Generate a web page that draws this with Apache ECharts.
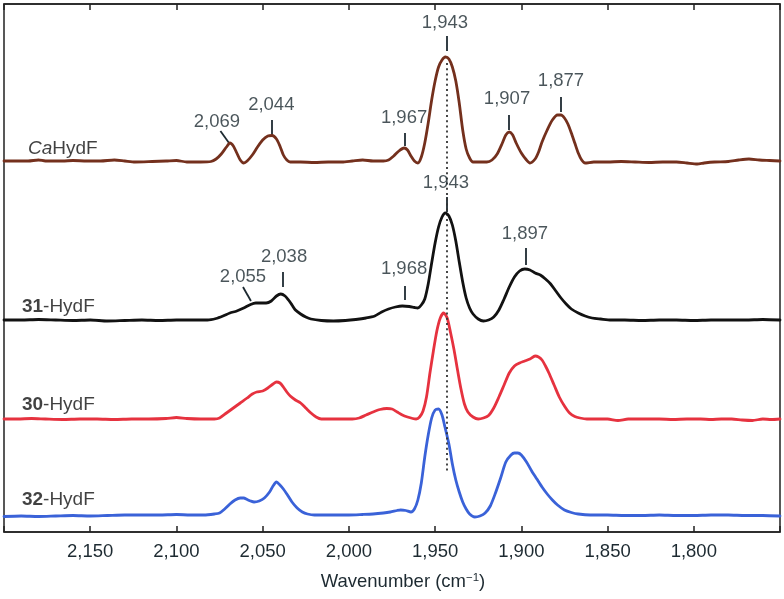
<!DOCTYPE html>
<html><head><meta charset="utf-8">
<script src="https://cdn.jsdelivr.net/npm/echarts@6/dist/echarts.min.js"></script>
<style>html,body{margin:0;padding:0;background:#fff}#c{width:784px;height:599px}</style>
</head><body><div id="c"></div>
<script>
// ---- Data (wavenumber in cm^-1, absorbance in arbitrary units above each trace's baseline) ----
const xTicks = [2150, 2100, 2050, 2000, 1950, 1900, 1850, 1800];

const caW = [2200,2192,2186,2180,2176,2166,2160,2152,2144,2136,2130,2124,2114,2106,2100,2094,2086,2080,2077,2074,2071,2069,2067,2065,2063,2061,2059,2056,2053,2050,2047,2044.5,2042,2040,2038,2036,2034,2028,2020,2012,2004,1998,1992,1986,1980,1977,1974,1971,1968,1966,1964,1962,1960,1958,1956,1954,1952,1950,1948,1946,1944,1942,1940,1938,1936,1934,1932,1930,1928,1924,1920,1917,1914,1911,1909,1907,1905,1903,1900,1897,1895,1892,1890,1888,1885,1882,1879,1877,1875,1873,1871,1869,1867,1865,1863,1858,1850,1842,1834,1826,1818,1810,1804,1798,1794,1788,1780,1774,1768,1762,1756,1750];
const caA = [0,0,0,1,0,0,0.5,0,0,1,0,-1,-0.5,0,0.5,-1,-1,-0.5,2,7,14,18,15,8,1,-2,0,6,14,21,25,25.5,22,15,6,1,-1,-1,-1.5,-1,-1,0,1,0,0,1,5,10,13,11,5,0,-2,4,18,38,61,80,94,101,104,102,94,80,58,31,12,3,-1,-1,-1,1,7,18,26,29,26,18,8,1,-2,2,9,19,31,41,46,46,43,37,28,18,8,1,-2,-1,-1,-0.5,-1,-1.5,-1,-1,-2,-3,-2,-1,-0.5,1,2,1,0.5,0];

const h31W = [2200,2190,2180,2170,2160,2150,2140,2130,2120,2110,2100,2090,2082,2077,2073,2069,2065,2061,2057,2054,2051,2048,2045,2042,2039.5,2037,2035,2033,2031,2028,2025,2022,2016,2009,2002,1996,1990,1985,1981,1977,1973,1969,1965,1962,1960,1958,1956,1954,1952,1950,1948,1946,1944,1942,1940,1938,1936,1934,1932,1930,1928,1925,1922,1919,1916,1913,1910,1907,1904,1901,1898,1895,1892,1889,1886,1883,1880,1877,1874,1871,1867,1863,1859,1854,1848,1840,1830,1820,1810,1800,1790,1780,1770,1760,1750];
const h31A = [0,0,0.5,0,-0.5,0,-1,-0.5,0,-0.5,0,0,0,1.5,4,7,9,12,15.5,17,17,17,19,24,26,24,20,15,10,6,3,1,-0.5,-1,-0.5,0.5,2,4,8,11,13,14,13.5,12.5,12,15,21,36,57,77,93,103,107,104,95,79,58,38,22,12,6,1,-1,0,3,10,21,33,43,49,51,50,47,45,41,36,29,22,16,11,7,4,2,1,0,0,-0.5,0,0,-0.5,0,0,0,0.5,0];

const h30W = [2200,2192,2184,2176,2166,2156,2146,2136,2126,2116,2106,2100,2094,2086,2078,2075,2071,2067,2063,2059,2056,2053.5,2050,2047,2044,2042,2040,2038,2036,2034,2031,2028,2025,2022,2019,2016,2010,2004,1998,1994,1990,1986,1982,1978,1975,1972,1969,1966,1963,1961,1959,1957,1955,1953,1951,1949,1947,1945,1943,1941,1939,1937,1935,1933,1931,1928,1925,1922,1919,1916,1913,1910,1907,1904,1901,1898,1895,1892,1890,1888,1886,1884,1881,1878,1875,1872,1869,1866,1862,1856,1850,1844,1838,1830,1820,1812,1804,1796,1790,1784,1778,1772,1766,1760,1755,1750];
const h30A = [0,0,0.5,0,-0.5,0,0,-0.5,0,0,0.5,1.5,0.5,0,0,1,6,11,16,21,25,27,28,31,35,37,36,32,27,23,19,16,11,6,2,0,0,0,0,1,4,7,9.5,10.5,10,7,4,2,0.5,0,2,8,22,46,68,88,101,106,101,86,69,49,30,15,7,2,0,1,3.5,11,22,34,46,53,56,58,60,63,62,59,53,46,34,22,13,6,2.5,1,0,0,0,-1.5,0,0,0,-0.5,0,0,-0.5,0,0,-1,-1.5,0,-0.5,0];

const h32W = [2200,2190,2180,2170,2160,2150,2140,2130,2120,2110,2100,2092,2084,2078,2075,2072,2069,2066,2063,2061,2059,2057,2055,2052,2049,2046,2044,2042,2040,2038,2036,2033,2030,2027,2024,2020,2010,2000,1992,1986,1980,1976,1972,1970,1967,1964,1962,1960,1958,1956,1954,1952,1950,1948,1946,1944.3,1942,1940,1938,1936,1934,1932,1930,1927,1924,1921,1918,1915,1912,1909,1906,1904,1902,1900,1897,1894,1891,1888,1885,1882,1879,1875,1871,1867,1860,1850,1840,1830,1820,1810,1800,1790,1780,1770,1760,1750];
const h32A = [-1.5,-1,-1.5,-1,-0.5,-1,-0.5,0,0,0,0.5,0,0,1,2,6,11,15,17,17,15.5,14,13,14,17,23,29,33,30,26,21,13,7,3,1,0,0,0,0.5,1,2,3,4.5,5,4.5,3,6,15,32,58,80,97,105,106,100,88,71,51,35,23,13,6,1,-2,-1,2,9,22,37,53,60,62,62,60,53,44,36,28,21,15,10,5,2.5,1,0,0,-0.5,-0.5,0,-0.5,-0.5,0,0,-0.5,-0.5,-1];

const seriesNames = ['CaHydF', '31-HydF', '30-HydF', '32-HydF'];
const seriesColors = ['#74301d', '#121212', '#e6323f', '#3a62d8'];

// peak annotations: label text, label anchor [wavenumber, height], tick segment
const peakText = ['2,069','2,044','1,967','1,943','1,907','1,877','1,943','2,055','2,038','1,968','1,897'];
const peakLabelAt = [[2076.5,410],[2045,427],[1968,414],[1944.3,509],[1908.3,433],[1877,451],[1943.7,349],[2061.4,255],[2037.6,275],[1968,263],[1897.9,298]];
const peakTicks = [
  [[2074.5,401],[2069.5,389]], [[2044.5,412],[2044.5,397]], [[1967.5,399],[1967.5,386]],
  [[1943.5,496],[1943.5,481]], [[1907.3,417],[1907.3,402]], [[1877,435],[1877,420]],
  [[1943.3,335],[1943.3,320]], [[2061.4,245],[2056.8,231]], [[2038.5,260],[2038.5,245]],
  [[1967.5,246],[1967.5,232]], [[1897.5,284],[1897.5,267]]
];
const guideLine = [[1943.3,469],[1943.3,60]];

// ---- Build chart ----
const FONT = '"Liberation Sans", Arial, Helvetica, sans-serif';
const TXT = '#1d2a31';
const offsets = [371, 212, 113, 17];
const wArr = [caW, h31W, h30W, h32W];
const aArr = [caA, h31A, h30A, h32A];

const series = seriesNames.map((name, i) => ({
  type: 'line', name: name, showSymbol: false, smooth: 0.25,
  lineStyle: { color: seriesColors[i], width: 2.8, join: 'round', cap: 'round' }, z: 3 + (3 - i),
  data: wArr[i].map((w, j) => [w, aArr[i][j] + offsets[i]])
}));

const labelPos = [[2186.1,383],[2189.6,225],[2189.6,127],[2189.6,32]];
const labelRich = [
  '{i|Ca}{n|HydF}', '{b|31}{n|-HydF}', '{b|30}{n|-HydF}', '{b|32}{n|-HydF}'
];
series.push({
  type: 'scatter', symbolSize: 0, silent: true, z: 10,
  data: labelPos.map((p, i) => ({ value: p, label: { formatter: labelRich[i] } })),
  label: { show: true, position: 'right', distance: 0, align: 'left', verticalAlign: 'middle',
    rich: {
      n: { fontFamily: FONT, fontSize: 19, color: '#111' },
      i: { fontFamily: FONT, fontSize: 19, color: '#111', fontStyle: 'italic' },
      b: { fontFamily: FONT, fontSize: 19, color: '#111', fontWeight: 'bold' }
    } }
});
series.push({
  type: 'scatter', symbolSize: 0, silent: true, z: 10,
  data: peakLabelAt.map((p, i) => ({ value: p, label: { formatter: peakText[i] } })),
  label: { show: true, position: 'inside', align: 'center', verticalAlign: 'middle',
    fontFamily: FONT, fontSize: 18.5, color: TXT }
});
series.push({
  type: 'line', data: [], silent: true, z: 2,
  markLine: { silent: true, symbol: ['none','none'], animation: false, label: { show: false },
    lineStyle: { color: '#1d2a31', width: 1.8, type: 'solid' },
    data: peakTicks.map(s => [{ coord: s[0] }, { coord: s[1] }]).concat([
      [{ coord: guideLine[0], lineStyle: { type: [2, 3.2], width: 1.8, color: '#333' } },
       { coord: guideLine[1] }]
    ]) }
});

const chart = echarts.init(document.getElementById('c'), null, { renderer: 'canvas' });
const fmt = v => String(v).replace(/\B(?=(\d{3})+(?!\d))/g, ',');
chart.setOption({
  animation: false,
  backgroundColor: '#fff',
  grid: { left: 4, right: 4, top: 4, bottom: 67, show: true, borderColor: '#222', borderWidth: 1.5 },
  xAxis: [{
    type: 'value', min: 1750, max: 2200, interval: 50, inverse: true, position: 'bottom',
    axisLine: { show: true, lineStyle: { color: '#222', width: 1.5 } },
    axisTick: { show: true, inside: true, length: 6, lineStyle: { color: '#222', width: 1.5 } },
    splitLine: { show: false },
    axisLabel: { show: true, margin: 10, fontFamily: FONT, fontSize: 18.5, color: TXT,
      formatter: v => xTicks.indexOf(v) >= 0 ? fmt(v) : '' },
    name: '{a|Wavenumber (cm}{s|−1}{a|)}', nameLocation: 'middle', nameGap: 40,
    nameTextStyle: { padding: [0, 0, 0, 22], rich: {
      a: { fontFamily: FONT, fontSize: 18.5, color: TXT },
      s: { fontFamily: FONT, fontSize: 11.5, color: TXT, verticalAlign: 'top', padding: [0, 0, 8, 0] } } }
  }, {
    type: 'value', min: 1750, max: 2200, interval: 50, inverse: true, position: 'top',
    axisLine: { show: true, lineStyle: { color: '#222', width: 1.5 } },
    axisTick: { show: true, inside: true, length: 6, lineStyle: { color: '#222', width: 1.5 } },
    axisLabel: { show: false }, splitLine: { show: false }
  }],
  yAxis: { type: 'value', min: 0, max: 528, show: false, splitLine: { show: false } },
  series: series
});
</script></body></html>
